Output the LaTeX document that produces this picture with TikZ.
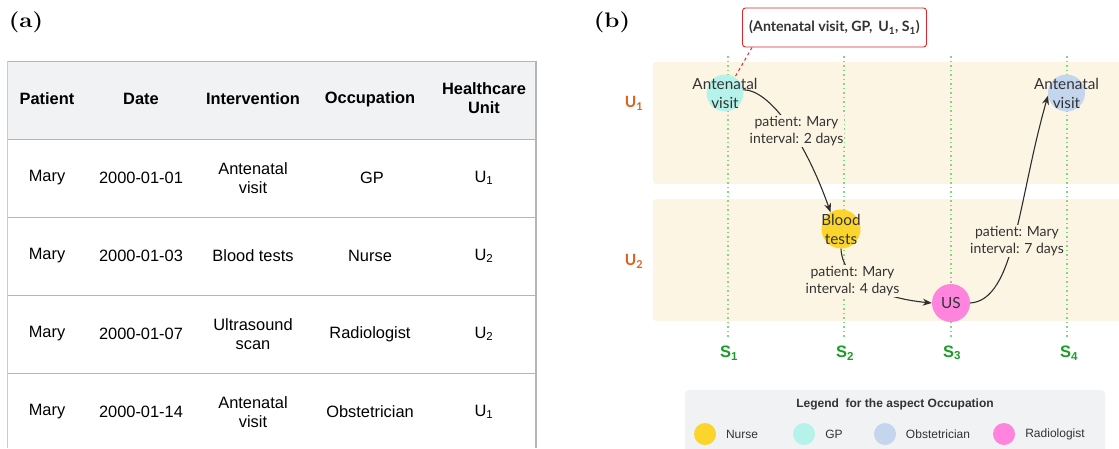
\documentclass[tikz,border=0pt]{standalone}
\usepackage{fontspec}
\newfontfamily\arialf{Liberation Sans}
\newfontfamily\lato{Lato}
\usetikzlibrary{arrows.meta,calc}
\definecolor{hdr}{HTML}{F1F2F4}
\definecolor{gridc}{HTML}{B5B5B5}
\definecolor{lane}{HTML}{FDF5E4}
\definecolor{sgreen}{HTML}{1E9B2D}
\definecolor{dotg}{HTML}{80D880}
\definecolor{uorange}{HTML}{D9631E}
\definecolor{txt}{HTML}{333333}
\definecolor{gpc}{HTML}{B5F2EA}
\definecolor{obc}{HTML}{C3D6EE}
\definecolor{nuc}{HTML}{FBD52C}
\definecolor{rac}{HTML}{FF84DE}
\definecolor{legbg}{HTML}{F1F2F4}
\definecolor{redb}{HTML}{E0242C}
\begin{document}
\begin{tikzpicture}[x=1pt,y=-1pt,
  cell/.style={font=\arialf\fontsize{16.4}{19}\selectfont, align=center, text=black},
  hcell/.style={font=\arialf\bfseries\fontsize{16.4}{19}\selectfont, align=center, text=black},
  panel/.style={font=\bfseries\fontsize{21}{24}\selectfont, xscale=1.15},
  ev/.style={circle, minimum size=37pt, inner sep=0pt},
  evtxt/.style={align=center, text=txt, inner sep=0pt, font=\lato\fontsize{15.3}{19}\selectfont},
  elbl/.style={fill=lane, inner sep=1pt, align=center, text=txt, font=\lato\fontsize{14}{16.5}\selectfont},
  edge/.style={draw=txt!90!black, line width=1.1pt, -{Stealth[length=9pt,width=7pt]}},
  ulbl/.style={text=uorange, font=\lato\bfseries\fontsize{15.5}{18}\selectfont},
  slbl/.style={text=sgreen, font=\arialf\bfseries\fontsize{16.5}{18}\selectfont},
  guide/.style={draw=dotg, line width=1.1pt, dash pattern=on 1.8pt off 2.7pt},
  legdot/.style={circle, minimum size=22pt, inner sep=0pt},
  legtxt/.style={text=txt, font=\arialf\fontsize{12}{14}\selectfont}
]
\useasboundingbox (0,0) rectangle (1119,448);

% ---------------- (a) table ----------------
\node[panel] (pa) at (26,22) {(a)};
\fill[hdr] (7,61) rectangle (536,139);
\draw[gridc, line width=0.8pt] (7,61) -- (536,61);
\draw[gridc, line width=0.8pt] (7,139) -- (536,139);
\draw[gridc, line width=0.8pt] (7,217) -- (536,217);
\draw[gridc, line width=0.8pt] (7,295) -- (536,295);
\draw[gridc, line width=0.8pt] (7,373) -- (536,373);
\draw[gridc!70, line width=0.8pt] (7,61) -- (7,448);
\draw[gridc, line width=1.2pt] (536,61) -- (536,448);

\node[hcell] (h1) at (47,99) {Patient};
\node[hcell] (h2) at (141,99) {Date};
\node[hcell] (h3) at (253,99) {Intervention};
\node[hcell] (h4) at (370,99) {Occupation};
\node[hcell] (h5) at (484,98) {Healthcare\\Unit};

\node[cell] (r1c1) at (47,178) {Mary};
\node[cell] (r1c2) at (141,178) {2000-01-01};
\node[cell] (r1c3) at (253,178) {Antenatal\\visit};
\node[cell] (r1c4) at (372,178) {GP};
\node[cell] (r1c5) at (484,178) {U\textsubscript{1}};

\node[cell] (r2c1) at (47,256) {Mary};
\node[cell] (r2c2) at (141,256) {2000-01-03};
\node[cell] (r2c3) at (253,256) {Blood tests};
\node[cell] (r2c4) at (370,256) {Nurse};
\node[cell] (r2c5) at (484,256) {U\textsubscript{2}};

\node[cell] (r3c1) at (47,334) {Mary};
\node[cell] (r3c2) at (141,334) {2000-01-07};
\node[cell] (r3c3) at (253,334) {Ultrasound\\scan};
\node[cell] (r3c4) at (370,334) {Radiologist};
\node[cell] (r3c5) at (484,334) {U\textsubscript{2}};

\node[cell] (r4c1) at (47,412) {Mary};
\node[cell] (r4c2) at (141,412) {2000-01-14};
\node[cell] (r4c3) at (253,412) {Antenatal\\visit};
\node[cell] (r4c4) at (370,412) {Obstetrician};
\node[cell] (r4c5) at (484,412) {U\textsubscript{1}};

% ---------------- (b) graph ----------------
\node[panel] (pb) at (612,22) {(b)};
\fill[lane, rounded corners=3pt] (653,62) rectangle (1130,184);
\fill[lane, rounded corners=3pt] (653,199) rectangle (1130,321);

\node[ulbl] (u1) at (634,103) {U\textsubscript{1}};
\node[ulbl] (u2) at (634,261) {U\textsubscript{2}};

\node[slbl] (s1) at (729,353) {S\textsubscript{1}};
\node[slbl] (s2) at (845,353) {S\textsubscript{2}};
\node[slbl] (s3) at (952,353) {S\textsubscript{3}};
\node[slbl] (s4) at (1069,353) {S\textsubscript{4}};

\draw[guide] (728,56) -- (728,338);
\draw[guide] (844,56) -- (844,338);
\draw[guide] (951,56) -- (951,338);
\draw[guide] (1067,56) -- (1067,338);

\node[ev, fill=gpc] (gp) at (725,93) {};
\node[ev, fill=obc] (ob) at (1066.5,93) {};
\node[ev, fill=nuc, minimum size=39pt] (bt) at (841,229) {};
\node[ev, fill=rac, minimum size=38pt] (us) at (951,303) {};

\draw[edge] (gp.10) .. controls (770,90) and (805,140) .. (bt.122);
\draw[edge] (bt.south) .. controls (842,280) and (880,298) .. (us.west);
\draw[edge] (us.east) .. controls (1015,300) and (1018,200) .. (ob.188);

\node[evtxt] (gpt) at (gp) {Antenatal\\visit};
\node[evtxt] (obt) at (ob) {Antenatal\\visit};
\node[evtxt] (btt) at (bt) {Blood\\tests};
\node[evtxt] (ust) at (us) {US};

\node[elbl] (l1) at (796.5,131) {patient: Mary\\interval: 2 days};
\node[elbl] (l2) at (852.5,281) {patient: Mary\\interval: 4 days};
\node[elbl] (l3) at (1017,241) {patient: Mary\\interval: 7 days};

\node[draw=redb, fill=white, rounded corners=3pt, line width=0.9pt, minimum width=184pt, minimum height=39pt, inner sep=3pt,
      text=txt, font=\lato\bfseries\fontsize{14.2}{16}\selectfont] (ann) at (834.5,27.5)
      {(Antenatal visit, GP,\ \,U\textsubscript{1}, S\textsubscript{1})};
\draw[redb, dashed, line width=1pt] ($(ann.south west)+(10,0)$) -- (gp.58);

% ---------------- legend ----------------
\fill[legbg, rounded corners=4pt] (685,390) rectangle (1105,460);
\node[text=txt, font=\arialf\bfseries\fontsize{12}{14}\selectfont] (lt) at (895,404) {Legend\ \ for the aspect Occupation};
\node[legdot, fill=nuc] (d1) at (705,434) {};
\node[legtxt] (t1) at (742,434) {Nurse};
\node[legdot, fill=gpc] (d2) at (804,434) {};
\node[legtxt] (t2) at (834,434) {GP};
\node[legdot, fill=obc] (d3) at (885,434) {};
\node[legtxt] (t3) at (938,434) {Obstetrician};
\node[legdot, fill=rac] (d4) at (1004,434) {};
\node[legtxt] (t4) at (1055,434) {Radiologist};
\end{tikzpicture}
\end{document}
